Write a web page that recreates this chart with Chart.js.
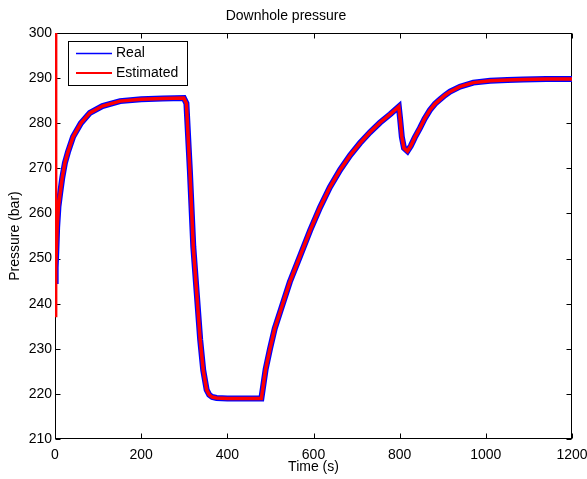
<!DOCTYPE html>
<html>
<head>
<meta charset="utf-8">
<script src="https://cdn.jsdelivr.net/npm/chart.js@4"></script>
<style>
  body { margin: 0; background: #fff; }
</style>
</head>
<body>
<canvas id="pressure-chart" width="587" height="479"></canvas>
<script>
// time samples (s)
const time = [0, 1, 2, 3, 5, 8, 12, 17, 23, 30, 42, 60, 81, 110, 151, 200, 250, 299,
    305, 313, 321, 329, 337, 344, 352, 358, 365, 375, 400, 440, 479,
    489, 499, 510, 522, 545, 569, 592, 615, 638, 662, 685, 708, 731, 754, 778, 798,
    801, 805, 810, 818, 826, 835, 847, 858, 870, 882, 894, 905, 917, 940, 971, 1010, 1050, 1087, 1140, 1200];
const realPressure = [245, 246, 248, 251.5, 257, 261.5, 264.5, 268, 271.2, 273.6, 277, 280, 282.3, 283.8, 284.9, 285.3, 285.5, 285.6,
    284.4, 269.6, 252.6, 242.3, 232, 225.3, 220.9, 219.8, 219.3, 219.1, 219, 219, 219,
    225.5, 230, 234.5, 238, 244.8, 250.6, 256.2, 261.3, 265.8, 269.7, 272.9, 275.6, 278, 280.1, 282, 283.7,
    281, 277, 274.5, 273.8, 275, 276.8, 278.9, 281, 282.9, 284.3, 285.3, 286.2, 287, 288.1, 289, 289.4, 289.6, 289.7, 289.8, 289.8];
const estPressure = [300, 237, 248, 251.5, 257, 261.5, 264.5, 268, 271.2, 273.6, 277, 280, 282.3, 283.8, 284.9, 285.3, 285.5, 285.6,
    284.4, 269.6, 252.6, 242.3, 232, 225.3, 220.9, 219.8, 219.3, 219.1, 219, 219, 219,
    225.5, 230, 234.5, 238, 244.8, 250.6, 256.2, 261.3, 265.8, 269.7, 272.9, 275.6, 278, 280.1, 282, 283.7,
    281, 277, 274.5, 273.8, 275, 276.8, 278.9, 281, 282.9, 284.3, 285.3, 286.2, 287, 288.1, 289, 289.4, 289.6, 289.7, 289.8, 289.8];
const seriesNames = ['Real', 'Estimated'];
const xTicks = [0, 200, 400, 600, 800, 1000, 1200];
const yTicks = [210, 220, 230, 240, 250, 260, 270, 280, 290, 300];

const fontFamily = "'Liberation Sans', Arial, Helvetica, sans-serif";
Chart.defaults.font.family = fontFamily;
Chart.defaults.font.size = 14;
Chart.defaults.color = '#000';

const toPoints = (values) => values.map((v, i) => ({ x: time[i], y: v }));

// MATLAB style box with ticks pointing inwards on all four sides
const matlabAxes = {
    id: 'matlabAxes',
    beforeDatasetsDraw(chart) {
        const { ctx, chartArea: a, scales: { x, y } } = chart;
        ctx.save();
        ctx.strokeStyle = '#000';
        ctx.lineWidth = 1;
        const l = Math.round(a.left) + 0.5, r = Math.round(a.right) - 0.5;
        const t = Math.round(a.top) + 0.5, b = Math.round(a.bottom) - 0.5;
        ctx.strokeRect(l, t, r - l, b - t);
        ctx.beginPath();
        x.ticks.forEach((tk) => {
            const px = Math.round(x.getPixelForValue(tk.value)) + 0.5;
            ctx.moveTo(px, b); ctx.lineTo(px, b - 5);
            ctx.moveTo(px, t); ctx.lineTo(px, t + 5);
        });
        y.ticks.forEach((tk) => {
            const py = Math.round(y.getPixelForValue(tk.value)) + 0.5;
            ctx.moveTo(l, py); ctx.lineTo(l + 5, py);
            ctx.moveTo(r, py); ctx.lineTo(r - 5, py);
        });
        ctx.stroke();
        ctx.restore();
    }
};

// boxed legend inside the top-left corner of the axes
const boxLegend = {
    id: 'boxLegend',
    afterDraw(chart) {
        const { ctx } = chart;
        const bx = 68.5, by = 41.5, bw = 119, bh = 44;
        ctx.save();
        ctx.fillStyle = '#fff';
        ctx.fillRect(bx, by, bw, bh);
        ctx.strokeStyle = '#000';
        ctx.lineWidth = 1;
        ctx.strokeRect(bx, by, bw, bh);
        ctx.font = '14px ' + fontFamily;
        ctx.textBaseline = 'middle';
        ctx.fillStyle = '#000';
        const widths = [1.3, 2];
        chart.data.datasets.forEach((ds, i) => {
            const ly = 53.5 + i * 19.5;
            ctx.strokeStyle = ds.borderColor;
            ctx.lineWidth = widths[i];
            ctx.beginPath();
            ctx.moveTo(76, ly);
            ctx.lineTo(112, ly);
            ctx.stroke();
            ctx.fillText(ds.label, 116, ly);
        });
        ctx.restore();
    }
};

new Chart(document.getElementById('pressure-chart'), {
    type: 'line',
    data: {
        datasets: [
            {
                label: seriesNames[0],
                data: toPoints(realPressure),
                borderColor: '#0000ff',
                borderWidth: 6,
                pointRadius: 0,
                tension: 0,
                order: 1
            },
            {
                label: seriesNames[1],
                data: toPoints(estPressure),
                borderColor: '#ff0000',
                borderWidth: 3.5,
                pointRadius: 0,
                tension: 0,
                order: 0
            }
        ]
    },
    options: {
        responsive: false,
        animation: false,
        layout: { padding: { left: 0, right: 15, top: 0, bottom: 0 } },
        plugins: {
            legend: { display: false },
            tooltip: { enabled: false },
            title: {
                display: true,
                text: 'Downhole pressure',
                font: { size: 14, weight: 'normal' },
                color: '#000',
                padding: { top: 8, bottom: 8.2 }
            }
        },
        scales: {
            x: {
                type: 'linear',
                min: 0,
                max: 1200,
                afterBuildTicks: (s) => { s.ticks = xTicks.map((v) => ({ value: v })); },
                afterFit: (s) => { s.height = 40; s.paddingLeft = 0; s.paddingRight = 0; },
                grid: { display: false, drawTicks: false },
                border: { display: false },
                ticks: { padding: 8, maxRotation: 0, color: '#000', callback: (v) => String(v) },
                title: { display: true, text: 'Time (s)', padding: { top: 0, bottom: 3 }, color: '#000' }
            },
            y: {
                type: 'linear',
                min: 210,
                max: 300,
                afterBuildTicks: (s) => { s.ticks = yTicks.map((v) => ({ value: v })); },
                afterFit: (s) => { s.width = 55; },
                grid: { display: false, drawTicks: false },
                border: { display: false },
                ticks: { padding: 3, color: '#000', callback: (v) => String(v) },
                title: { display: true, text: 'Pressure (bar)', padding: { top: 7, bottom: 0 }, color: '#000' }
            }
        }
    },
    plugins: [matlabAxes, boxLegend]
});
</script>
</body>
</html>
